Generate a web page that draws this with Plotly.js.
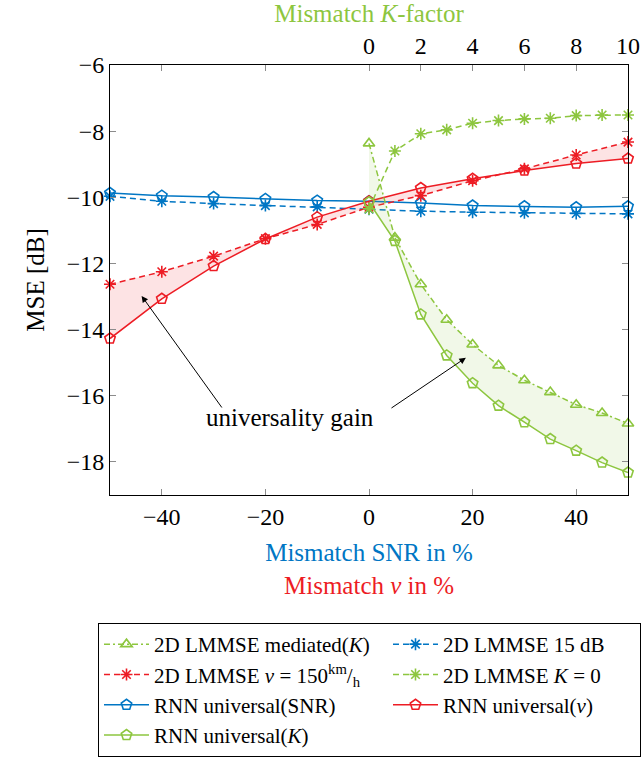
<!DOCTYPE html>
<html>
<head>
<meta charset="utf-8">
<script src="https://cdn.plot.ly/plotly-3.0.1.min.js"></script>
<style>html,body{margin:0;padding:0;background:#fff;}</style>
</head>
<body>
<div id="chart" style="width:642px;height:759px;"></div>
<script>
// ---- data ----
const mismatchPct = [-50, -40, -30, -20, -10, 0, 10, 20, 30, 40, 50];
const rnnUniversalSNR = [-9.87, -9.95, -9.99, -10.05, -10.10, -10.12, -10.17, -10.25, -10.27, -10.30, -10.27];
const lmmse15dB = [-9.97, -10.12, -10.19, -10.25, -10.29, -10.36, -10.42, -10.45, -10.47, -10.49, -10.50];
const rnnUniversalV = [-14.27, -13.07, -12.08, -11.26, -10.60, -10.12, -9.72, -9.44, -9.19, -8.98, -8.83];
const lmmseV150 = [-12.63, -12.25, -11.78, -11.25, -10.82, -10.30, -9.95, -9.50, -9.14, -8.72, -8.33];

const kFactor = [0, 1, 2, 3, 4, 5, 6, 7, 8, 9, 10];
const lmmseMediatedK = [-8.37, -11.22, -12.63, -13.70, -14.45, -15.08, -15.53, -15.89, -16.27, -16.52, -16.84];
const lmmseK0 = [-10.35, -8.60, -8.08, -7.96, -7.76, -7.68, -7.63, -7.61, -7.53, -7.51, -7.51];
const rnnUniversalK = [-10.15, -11.32, -13.54, -14.78, -15.62, -16.30, -16.80, -17.31, -17.66, -18.02, -18.32];

const pctTicks = [-40, -20, 0, 20, 40];
const kTicks = [0, 2, 4, 6, 8, 10];
const yTicks = [-18, -16, -14, -12, -10, -8, -6];

// ---- styles ----
const FONT = 'Liberation Serif';
const BLUE = 'rgb(0,118,196)';
const RED = 'rgb(237,28,36)';
const GREEN = 'rgb(141,198,63)';
const RED_FILL = 'rgba(237,28,36,0.12)';
const GREEN_FILL = 'rgba(141,198,63,0.12)';
const COL1_W = 229;   // legend entry width, left column
const COL2_W = 192;   // legend entry width, right column

function mk(symbol, color, size) {
  return {symbol: symbol, size: size || 11, color: color, line: {color: color, width: 1.6}};
}

const traces = [
  // shaded universality gain areas
  {x: mismatchPct, y: lmmseV150, mode: 'lines', line: {width: 0, color: RED}, showlegend: false, hoverinfo: 'skip'},
  {x: mismatchPct, y: rnnUniversalV, mode: 'lines', line: {width: 0, color: RED}, fill: 'tonexty', fillcolor: RED_FILL, showlegend: false, hoverinfo: 'skip'},
  {x: kFactor, y: lmmseMediatedK, xaxis: 'x2', mode: 'lines', line: {width: 0, color: GREEN}, showlegend: false, hoverinfo: 'skip'},
  {x: kFactor, y: rnnUniversalK, xaxis: 'x2', mode: 'lines', line: {width: 0, color: GREEN}, fill: 'tonexty', fillcolor: GREEN_FILL, showlegend: false, hoverinfo: 'skip'},

  {name: '2D LMMSE 15 dB', legendrank: 2, legendwidth: COL2_W, x: mismatchPct, y: lmmse15dB, mode: 'lines+markers', cliponaxis: false,
   line: {color: BLUE, width: 1.5, dash: '6px,4px'}, marker: mk('asterisk-open', BLUE, 10)},
  {name: 'RNN universal(SNR)', legendrank: 5, legendwidth: COL1_W, x: mismatchPct, y: rnnUniversalSNR, mode: 'lines+markers', cliponaxis: false,
   line: {color: BLUE, width: 1.5}, marker: mk('pentagon-open', BLUE)},
  {name: '2D LMMSE <i>v</i> = 150<sup>km</sup>/<sub>h</sub>', legendrank: 3, legendwidth: COL1_W, x: mismatchPct, y: lmmseV150, mode: 'lines+markers', cliponaxis: false,
   line: {color: RED, width: 1.5, dash: '6px,4px'}, marker: mk('asterisk-open', RED, 10)},
  {name: 'RNN universal(<i>v</i>)', legendrank: 6, legendwidth: COL2_W, x: mismatchPct, y: rnnUniversalV, mode: 'lines+markers', cliponaxis: false,
   line: {color: RED, width: 1.5}, marker: mk('pentagon-open', RED)},
  {name: '2D LMMSE <i>K</i> = 0', legendrank: 4, legendwidth: COL2_W, x: kFactor, y: lmmseK0, xaxis: 'x2', mode: 'lines+markers', cliponaxis: false,
   line: {color: GREEN, width: 1.5, dash: '6px,4px'}, marker: mk('asterisk-open', GREEN, 10)},
  {name: '2D LMMSE mediated(<i>K</i>)', legendrank: 1, legendwidth: COL1_W, x: kFactor, y: lmmseMediatedK, xaxis: 'x2', mode: 'lines+markers', cliponaxis: false,
   line: {color: GREEN, width: 1.5, dash: '6px,3px,2px,3px'}, marker: mk('triangle-up-open', GREEN, 10)},
  {name: 'RNN universal(<i>K</i>)', legendrank: 7, legendwidth: COL1_W, x: kFactor, y: rnnUniversalK, xaxis: 'x2', mode: 'lines+markers', cliponaxis: false,
   line: {color: GREEN, width: 1.5}, marker: mk('pentagon-open', GREEN)}
];

const axisCommon = {
  showline: true, linecolor: 'black', linewidth: 1,
  ticks: 'inside', ticklen: 6, tickwidth: 1, tickcolor: 'rgb(140,140,140)',
  showgrid: false, zeroline: false,
  tickfont: {family: FONT, size: 24, color: 'black'}
};

const layout = {
  width: 642, height: 759,
  margin: {l: 110, r: 14, t: 65, b: 264, autoexpand: false},
  paper_bgcolor: 'white', plot_bgcolor: 'white',
  font: {family: FONT, color: 'black'},
  showlegend: true,
  xaxis: Object.assign({}, axisCommon, {
    range: [-50, 50], tickvals: pctTicks, mirror: 'ticks',
    title: {text: 'Mismatch SNR in %', font: {family: FONT, size: 25, color: BLUE}, standoff: 14}
  }),
  xaxis2: Object.assign({}, axisCommon, {
    range: [-10, 10], tickvals: kTicks, overlaying: 'x', side: 'top', anchor: 'y',
    title: {text: 'Mismatch <i>K</i>-factor', font: {family: FONT, size: 25, color: GREEN}, standoff: 10}
  }),
  yaxis: Object.assign({}, axisCommon, {
    range: [-19, -6], tickvals: yTicks, mirror: 'ticks',
    title: {text: 'MSE [dB]', font: {family: FONT, size: 25, color: 'black'}, standoff: 14}
  }),
  legend: {
    orientation: 'h',
    x: -12 / 518, xanchor: 'left', y: -128 / 430, yanchor: 'top',
    bordercolor: 'black', borderwidth: 1, bgcolor: 'white',
    font: {family: FONT, size: 21, color: 'black'},
    entrywidth: COL1_W, entrywidthmode: 'pixels', itemwidth: 45,
    traceorder: 'normal'
  },
  annotations: [
    {xref: 'paper', yref: 'paper', x: 0.5, y: -0.2116, yanchor: 'middle', showarrow: false,
     text: 'Mismatch <i>v</i> in %', font: {family: FONT, size: 25, color: RED}},
    {xref: 'x', yref: 'y', x: -15.3, y: -16.67, showarrow: false,
     text: 'universality gain', font: {family: FONT, size: 25, color: 'black'}},
    {xref: 'x', yref: 'y', x: -43.9, y: -12.98, axref: 'x', ayref: 'y', ax: -28.2, ay: -16.40,
     text: '', showarrow: true, arrowhead: 2, arrowsize: 1.3, arrowwidth: 1, arrowcolor: 'black', standoff: 0, startstandoff: 0},
    {xref: 'x', yref: 'y', x: 18.7, y: -14.85, axref: 'x', ayref: 'y', ax: 4.05, ay: -16.40,
     text: '', showarrow: true, arrowhead: 2, arrowsize: 1.3, arrowwidth: 1, arrowcolor: 'black', standoff: 0, startstandoff: 0}
  ]
};

Plotly.newPlot('chart', traces, layout, {displayModeBar: false, staticPlot: true});
</script>
</body>
</html>
